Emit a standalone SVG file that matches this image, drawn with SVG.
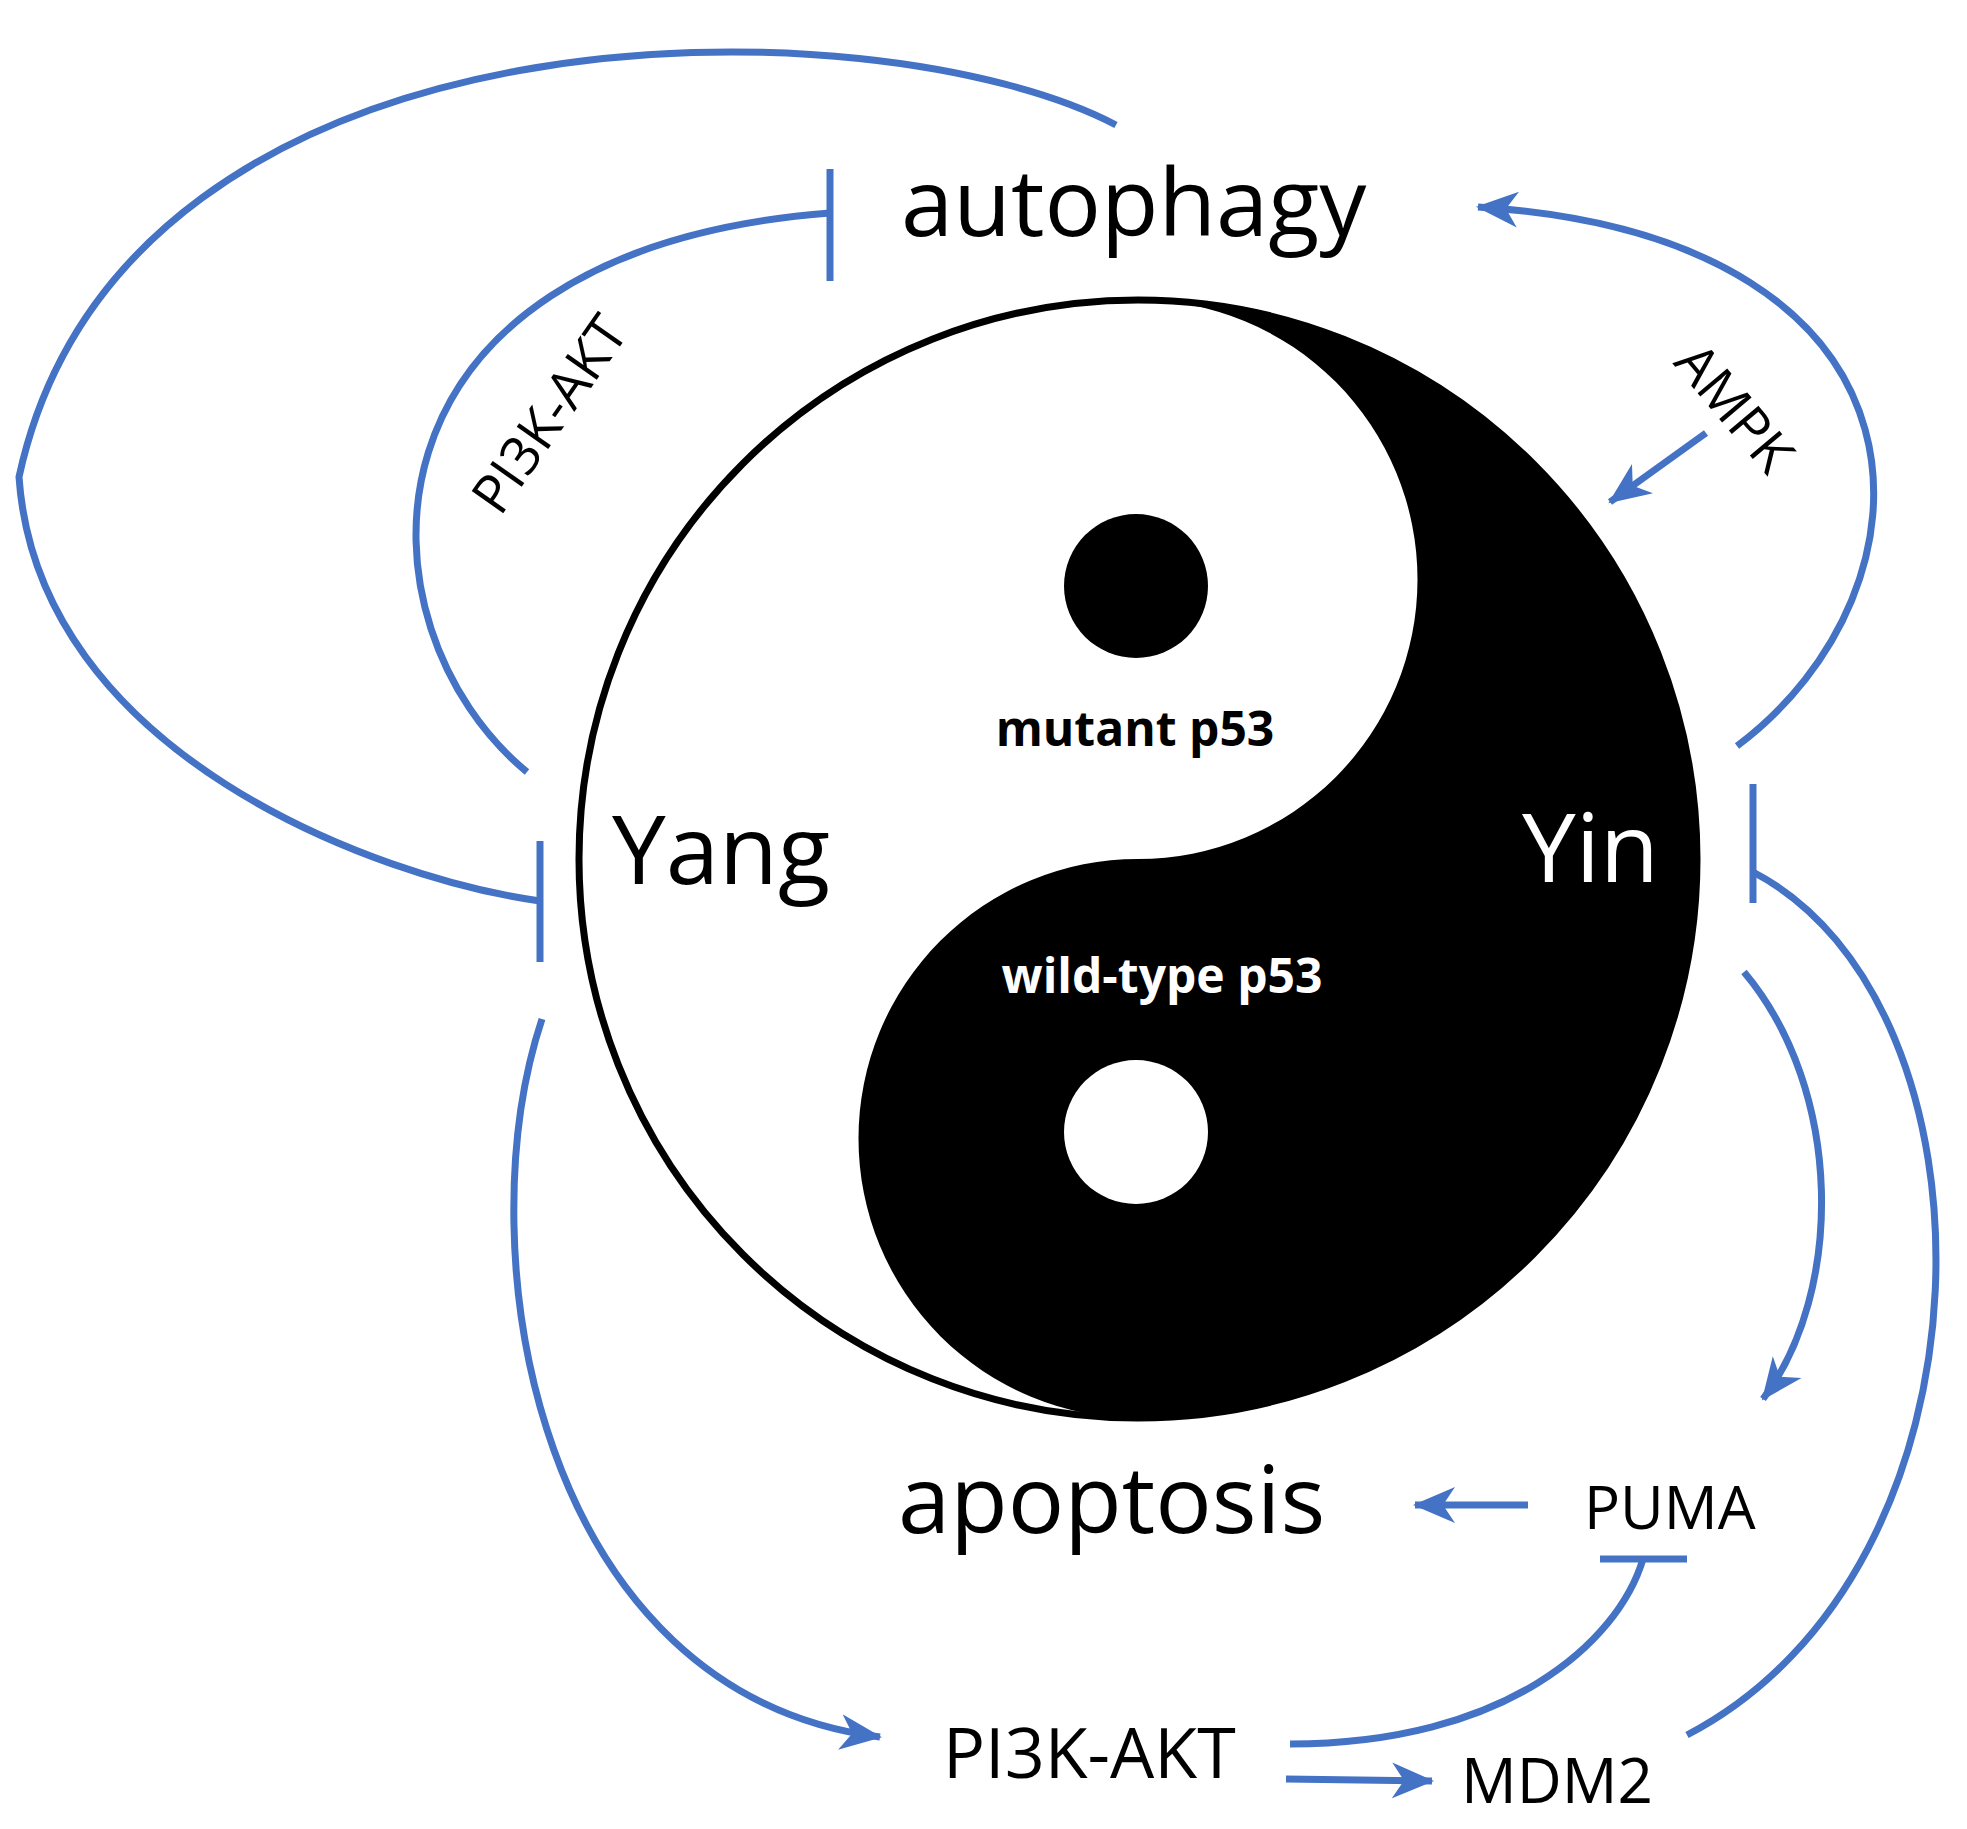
<svg xmlns="http://www.w3.org/2000/svg" width="1967" height="1829" viewBox="0 0 1967 1829">
<style>
.c{fill:none;stroke:#4472C4;stroke-width:7;stroke-linecap:butt}
.t{font-family:"Open Sans","Liberation Sans",sans-serif;fill:#000}
</style>
<defs>
<marker id="a" markerUnits="userSpaceOnUse" markerWidth="44" markerHeight="40" refX="40" refY="20" orient="auto">
<path d="M0,2 L42,20 L0,38 L12,20 Z" fill="#4472C4"/>
</marker>
</defs>
<rect width="1967" height="1829" fill="#fff"/>
<g id="yinyang">
<circle cx="1138" cy="859" r="559" fill="#fff" stroke="#000" stroke-width="7"/>
<path d="M1138,300 A559,559 0 0 1 1138,1418 A279.5,279.5 0 0 1 1138,859 A279.5,279.5 0 0 0 1138,300 Z" fill="#000"/>
<circle cx="1136" cy="586" r="72" fill="#000"/>
<circle cx="1136" cy="1132" r="72" fill="#fff"/>
</g>
<g id="labels">
<text class="t" x="612" y="884" font-size="96">Yang</text>
<text class="t" x="1522" y="882" font-size="96" fill="#fff" style="fill:#fff">Yin</text>
<text class="t" x="1135" y="746" font-size="48" font-weight="bold" text-anchor="middle">mutant p53</text>
<text class="t" x="1162" y="993" font-size="48" font-weight="bold" text-anchor="middle" style="fill:#fff">wild-type p53</text>
</g>
<g id="autophagy"><text class="t" x="901" y="236" font-size="94">autophagy</text></g>
<g id="apoptosis"><text class="t" x="898" y="1533" font-size="94">apoptosis</text></g>
<g id="puma"><text class="t" x="1584" y="1529" font-size="60">PUMA</text></g>
<g id="pi3k-bottom"><text class="t" x="943" y="1778" font-size="70">PI3K-AKT</text></g>
<g id="mdm2"><text class="t" x="1461" y="1803" font-size="62">MDM2</text></g>
<g id="pi3k-top"><text class="t" font-size="54" text-anchor="middle" transform="translate(565,425) rotate(-55)">PI3K-AKT</text></g>
<g id="ampk"><text class="t" font-size="54" text-anchor="middle" transform="translate(1720,420) rotate(50)">AMPK</text></g>
<g id="connectors">
<path class="c" d="M1116,125 C878,0 125,-12 19,477 C38,753 376,878 540,901"/>
<path class="c" d="M540,841 V962"/>
<path class="c" d="M527,772 C351,627 339,251 830,213"/>
<path class="c" d="M830,169 V281"/>
<path class="c" d="M1737,746 C1945,590 1957,238 1478,207" marker-end="url(#a)"/>
<path class="c" d="M1706,433 L1610,502" marker-end="url(#a)"/>
<path class="c" d="M1687,1735 C2007,1568 2007,1004 1753,872"/>
<path class="c" d="M1753,784 V903"/>
<path class="c" d="M1744,972 C1844,1091 1844,1292 1763,1399" marker-end="url(#a)"/>
<path class="c" d="M1528,1505 L1415,1505" marker-end="url(#a)"/>
<path class="c" d="M542,1019 C464,1254 539,1694 880,1737" marker-end="url(#a)"/>
<path class="c" d="M1290,1744 C1505,1744 1618,1643 1643,1559"/>
<path class="c" d="M1600,1559 H1687"/>
<path class="c" d="M1286,1779 L1432,1781" marker-end="url(#a)"/>
</g>
</svg>
